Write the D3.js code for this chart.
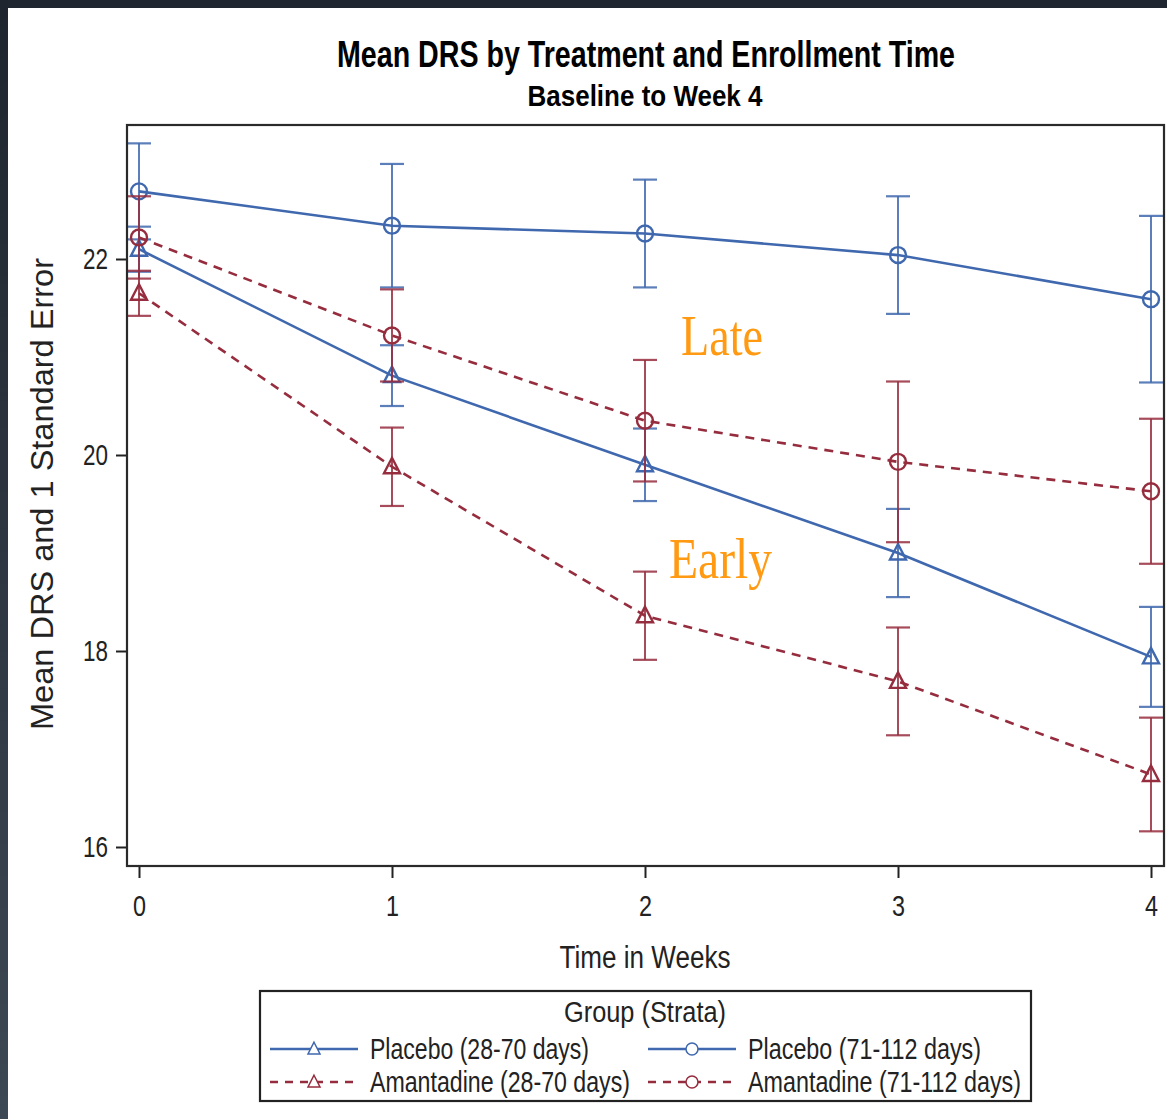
<!DOCTYPE html>
<html>
<head>
<meta charset="utf-8">
<script src="https://cdn.jsdelivr.net/npm/d3@7"></script>
<style>
  html, body { margin: 0; padding: 0; background: #fff; }
  svg { display: block; font-family: "Liberation Sans", Arial, sans-serif; }
</style>
</head>
<body>
<svg id="chart" width="1167" height="1119"></svg>
<script>
// Study weeks on the x axis
const weeks = [0, 1, 2, 3, 4];
const weekLabels = ["0", "1", "2", "3", "4"];
const yTicks = [16, 18, 20, 22];

// Mean DRS and one standard error per group and week
const placeboEarlyMean = [22.10, 20.81, 19.90, 19.00, 17.94];
const placeboEarlySE   = [0.23, 0.31, 0.37, 0.45, 0.51];
const placeboLateMean  = [22.69, 22.34, 22.26, 22.04, 21.59];
const placeboLateSE    = [0.49, 0.63, 0.55, 0.60, 0.85];
const amantadineEarlyMean = [21.65, 19.88, 18.36, 17.69, 16.74];
const amantadineEarlySE   = [0.23, 0.40, 0.45, 0.55, 0.58];
const amantadineLateMean  = [22.22, 21.22, 20.35, 19.93, 19.63];
const amantadineLateSE    = [0.42, 0.47, 0.62, 0.82, 0.74];

const groupNames = ["Placebo (28-70 days)", "Placebo (71-112 days)",
                    "Amantadine (28-70 days)", "Amantadine (71-112 days)"];

const BLUE = "#3f68ae";
const RED = "#962d3e";
const SANS = "'Liberation Sans', Arial, sans-serif";
const SERIF = "'Liberation Serif', 'Times New Roman', serif";

const series = [
  { name: groupNames[0], mean: placeboEarlyMean, se: placeboEarlySE, color: BLUE, dash: null, marker: "triangle" },
  { name: groupNames[1], mean: placeboLateMean, se: placeboLateSE, color: BLUE, dash: null, marker: "circle" },
  { name: groupNames[2], mean: amantadineEarlyMean, se: amantadineEarlySE, color: RED, dash: "9,7", marker: "triangle" },
  { name: groupNames[3], mean: amantadineLateMean, se: amantadineLateSE, color: RED, dash: "9,7", marker: "circle" }
];

const svg = d3.select("#chart");

// dark window edges around the graph
const grad = svg.append("defs").append("linearGradient")
  .attr("id", "edge").attr("x1", 0).attr("y1", 0).attr("x2", 0).attr("y2", 1);
grad.append("stop").attr("offset", "0%").attr("stop-color", "#1e252e");
grad.append("stop").attr("offset", "100%").attr("stop-color", "#3c4853");
svg.append("rect").attr("x", 0).attr("y", 0).attr("width", 1167).attr("height", 8).attr("fill", "#1f262f");
svg.append("rect").attr("x", 0).attr("y", 0).attr("width", 8).attr("height", 1119).attr("fill", "url(#edge)");

// plot frame
const frame = { left: 127, top: 125, right: 1164, bottom: 866 };
const x = d3.scaleLinear().domain([0, 4]).range([139, 1151]);
const y = d3.scaleLinear().domain([16, 22]).range([847, 259]);

// titles
function fitText(sel, len) {
  return sel.attr("textLength", len).attr("lengthAdjust", "spacingAndGlyphs");
}
fitText(svg.append("text").attr("x", 646).attr("y", 67).attr("text-anchor", "middle")
  .style("font-family", SANS).attr("font-size", 36).attr("font-weight", "bold").attr("fill", "#000")
  .text("Mean DRS by Treatment and Enrollment Time"), 618);
fitText(svg.append("text").attr("x", 645).attr("y", 106).attr("text-anchor", "middle")
  .style("font-family", SANS).attr("font-size", 30).attr("font-weight", "bold").attr("fill", "#000")
  .text("Baseline to Week 4"), 235);

// axes
const yAxis = svg.append("g").attr("transform", `translate(${frame.left},0)`)
  .call(d3.axisLeft(y).tickValues(yTicks).tickSize(11).tickPadding(8).tickFormat(d3.format("d")));
yAxis.select(".domain").remove();
yAxis.selectAll(".tick line").attr("stroke", "#222").attr("stroke-width", 2);
yAxis.selectAll(".tick text").attr("font-size", 30).attr("fill", "#222")
  .style("font-family", SANS)
  .attr("textLength", 25).attr("lengthAdjust", "spacingAndGlyphs");

const xAxis = svg.append("g").attr("transform", `translate(0,${frame.bottom})`)
  .call(d3.axisBottom(x).tickValues(weeks).tickSize(12).tickPadding(17).tickFormat((d, i) => weekLabels[i]));
xAxis.select(".domain").remove();
xAxis.selectAll(".tick line").attr("stroke", "#222").attr("stroke-width", 2);
xAxis.selectAll(".tick text").attr("font-size", 30).attr("fill", "#222")
  .style("font-family", SANS)
  .attr("textLength", 13).attr("lengthAdjust", "spacingAndGlyphs");

// axis titles
fitText(svg.append("text").attr("x", 645).attr("y", 968).attr("text-anchor", "middle")
  .style("font-family", SANS).attr("font-size", 31).attr("fill", "#222").text("Time in Weeks"), 171);
fitText(svg.append("text").attr("transform", "translate(53,494) rotate(-90)").attr("text-anchor", "middle")
  .style("font-family", SANS).attr("font-size", 31).attr("fill", "#222").text("Mean DRS and 1 Standard Error"), 472);

// enrollment-time annotations
fitText(svg.append("text").attr("x", 681).attr("y", 355).style("font-family", SERIF)
  .attr("font-size", 58).attr("fill", "#ff9a12").text("Late"), 82);
fitText(svg.append("text").attr("x", 669).attr("y", 578).style("font-family", SERIF)
  .attr("font-size", 56).attr("fill", "#ff9a12").text("Early"), 103);

const plot = svg.append("g");

// marker symbols
function markerPath(type) {
  if (type === "circle") return d3.symbol().type(d3.symbolCircle).size(200)();
  return "M0,-9L8,6.5L-8,6.5Z";
}

const line = d3.line().x((d, i) => x(weeks[i])).y(d => y(d));

series.forEach(s => {
  const g = plot.append("g");
  // error bars: mean ± 1 SE
  const bars = g.selectAll(".err").data(s.mean).enter().append("g").attr("class", "err");
  bars.append("line")
    .attr("x1", (d, i) => x(weeks[i])).attr("x2", (d, i) => x(weeks[i]))
    .attr("y1", (d, i) => y(d + s.se[i])).attr("y2", (d, i) => y(d - s.se[i]))
    .attr("stroke", s.color).attr("stroke-width", 2).attr("stroke-opacity", 0.85);
  [1, -1].forEach(sign => {
    bars.append("line")
      .attr("x1", (d, i) => x(weeks[i]) - 12).attr("x2", (d, i) => x(weeks[i]) + 12)
      .attr("y1", (d, i) => y(d + sign * s.se[i])).attr("y2", (d, i) => y(d + sign * s.se[i]))
      .attr("stroke", s.color).attr("stroke-width", 2.2).attr("stroke-opacity", 0.85);
  });
  // connecting line of means
  g.append("path").datum(s.mean).attr("d", line).attr("fill", "none")
    .attr("stroke", s.color).attr("stroke-width", 2.6)
    .attr("stroke-dasharray", s.dash);
  // markers
  g.selectAll(".mk").data(s.mean).enter().append("path").attr("class", "mk")
    .attr("d", markerPath(s.marker))
    .attr("transform", (d, i) => `translate(${x(weeks[i])},${y(d)})`)
    .attr("fill", "none").attr("stroke", s.color).attr("stroke-width", 2.4);
});

// frame around the data area
svg.append("rect").attr("x", frame.left).attr("y", frame.top)
  .attr("width", frame.right - frame.left).attr("height", frame.bottom - frame.top)
  .attr("fill", "none").attr("stroke", "#2a2a2a").attr("stroke-width", 2.2);

// legend
const legend = svg.append("g");
legend.append("rect").attr("x", 260).attr("y", 991).attr("width", 771).attr("height", 110)
  .attr("fill", "#fff").attr("stroke", "#222").attr("stroke-width", 2.2);
fitText(legend.append("text").attr("x", 645).attr("y", 1022).attr("text-anchor", "middle")
  .style("font-family", SANS).attr("font-size", 29).attr("fill", "#222").text("Group (Strata)"), 162);

const legendPos = [
  { lx: 270, ty: 1049, tx: 370, w: 219 },
  { lx: 648, ty: 1049, tx: 748, w: 233 },
  { lx: 270, ty: 1082, tx: 370, w: 260 },
  { lx: 648, ty: 1082, tx: 748, w: 273 }
];
series.forEach((s, i) => {
  const p = legendPos[i];
  legend.append("line").attr("x1", p.lx).attr("x2", p.lx + 88).attr("y1", p.ty).attr("y2", p.ty)
    .attr("stroke", s.color).attr("stroke-width", 2.6).attr("stroke-dasharray", s.dash ? "8,7" : null);
  legend.append("path").attr("d", markerPath(s.marker))
    .attr("fill", "#fff").attr("stroke", s.color).attr("stroke-width", 2)
    .attr("transform", `translate(${p.lx + 44},${p.ty}) scale(0.75)`);
  fitText(legend.append("text").attr("x", p.tx).attr("y", p.ty + 10)
    .style("font-family", SANS).attr("font-size", 29).attr("fill", "#222").text(s.name), p.w);
});
</script>
</body>
</html>
